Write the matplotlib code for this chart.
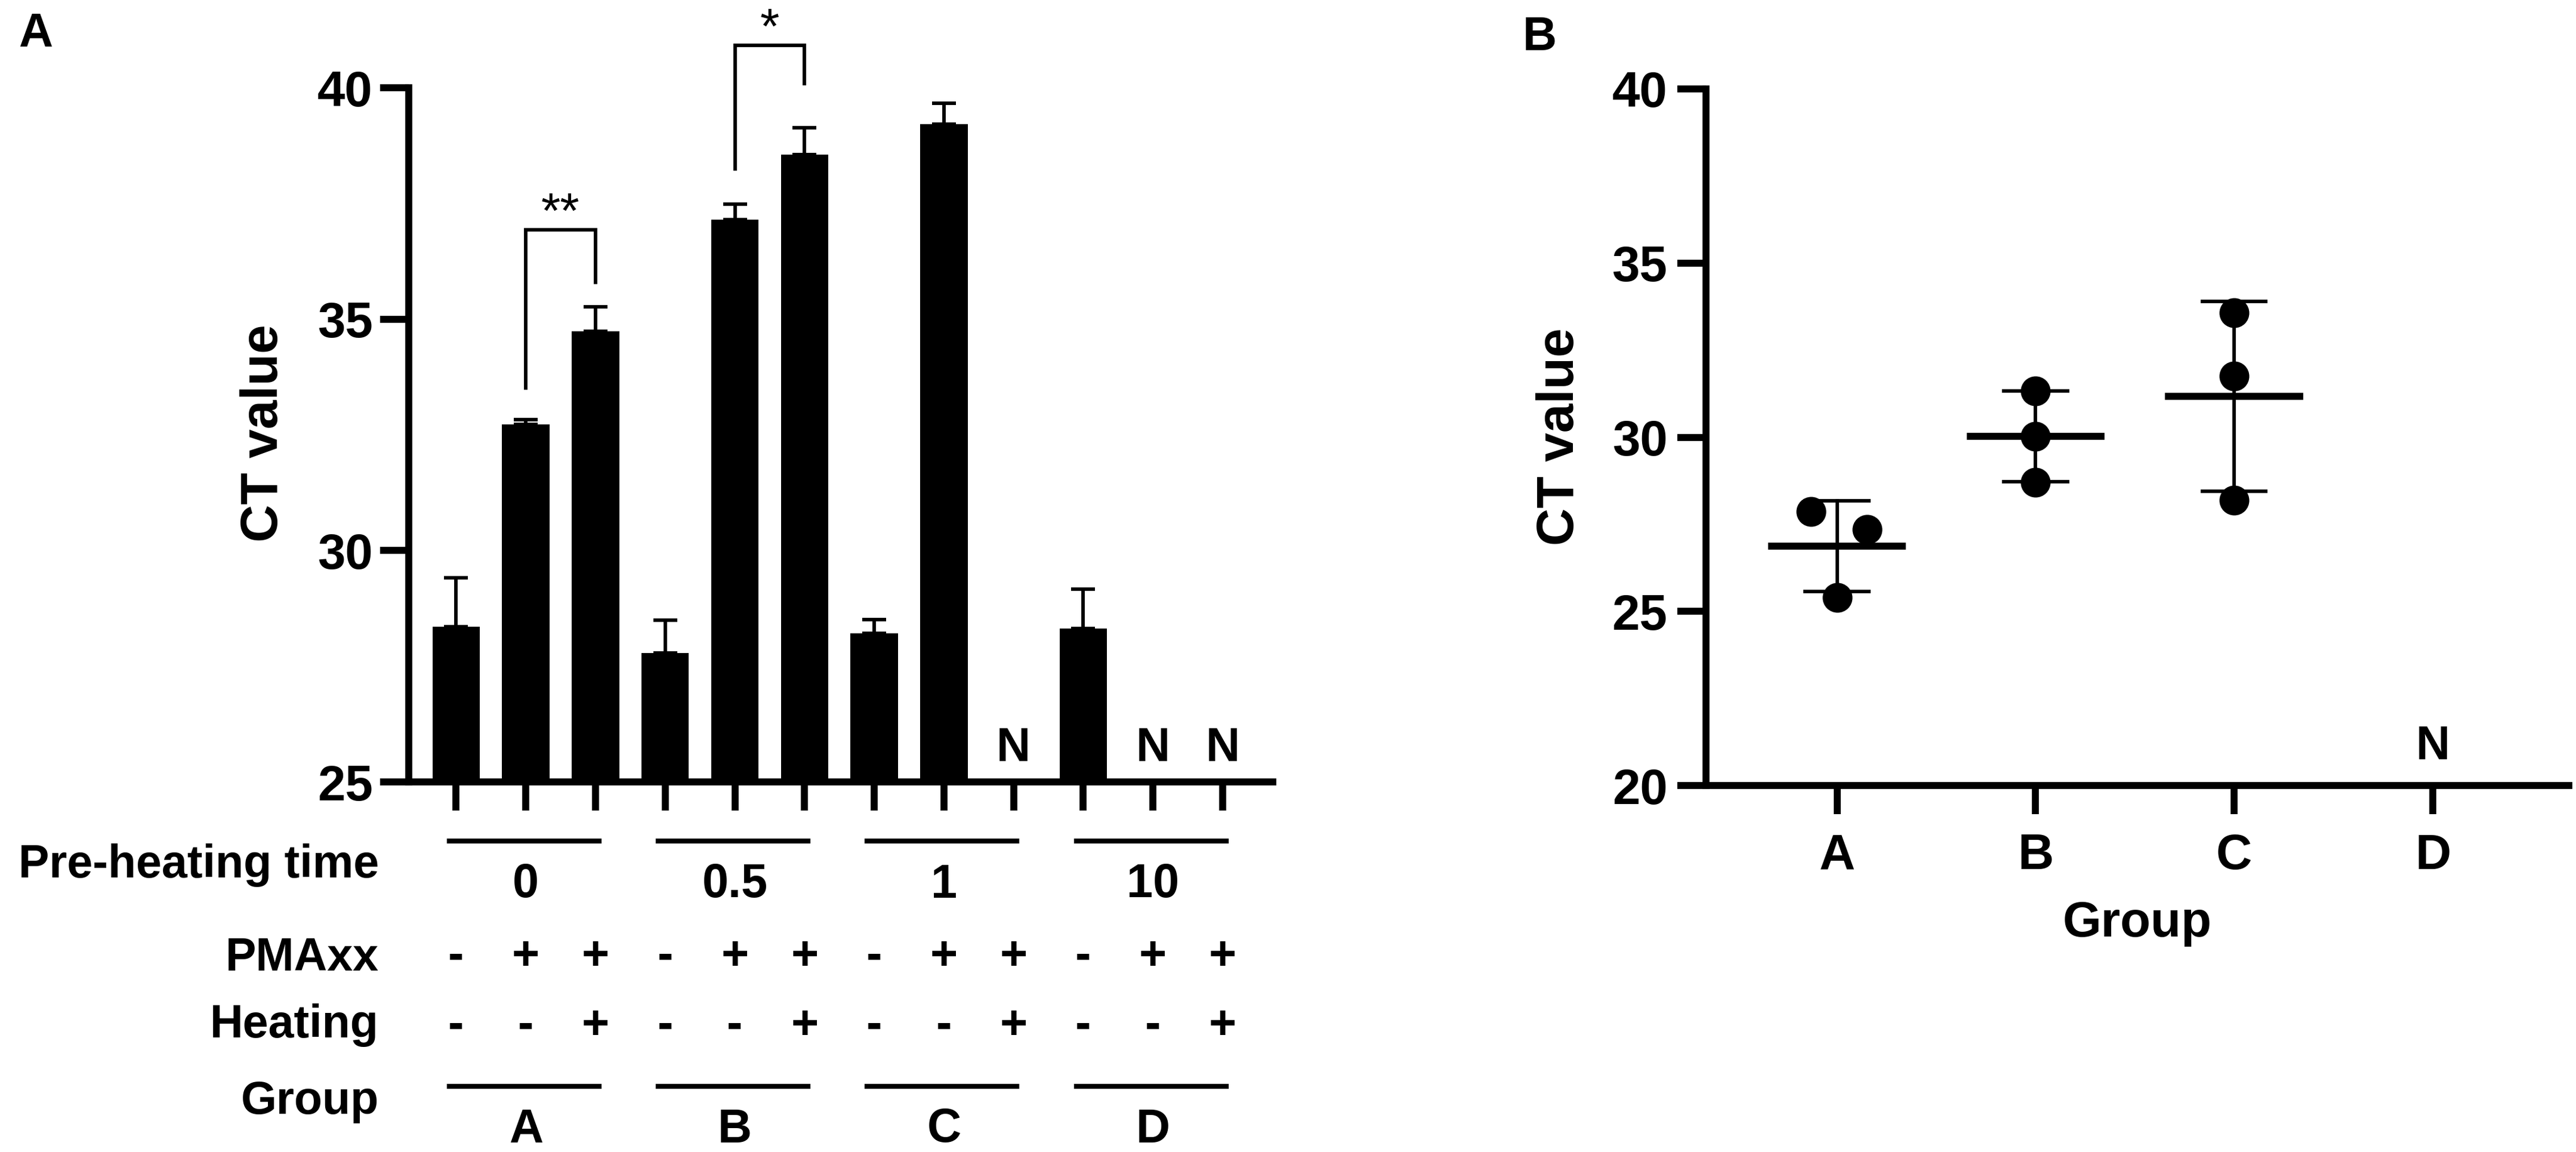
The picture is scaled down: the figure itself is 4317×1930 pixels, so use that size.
import numpy as np
import matplotlib.pyplot as plt
from matplotlib import transforms

plt.rcParams['font.family'] = ['Liberation Sans', 'DejaVu Sans']
plt.rcParams['font.weight'] = 'bold'

# Panel A: CT values of the bars (mean, upper SD); nan = not detected (N)
ct_mean = [28.35, 32.72, 34.74, 27.79, 37.15, 38.56, 28.21, 39.21, np.nan, 28.31, np.nan, np.nan]
ct_sd = [1.06, 0.11, 0.53, 0.71, 0.34, 0.57, 0.30, 0.46, np.nan, 0.86, np.nan, np.nan]
pmaxx = ['-', '+', '+'] * 4
heating = ['-', '-', '+'] * 4
preheat_time = ['0', '0.5', '1', '10']
groups = ['A', 'B', 'C', 'D']

# significance brackets: (left bar, right bar, top, left end, right end, label)
brackets = [(1, 2, 36.93, 33.51, 35.80, '**'),
            (4, 5, 40.91, 38.24, 40.09, '*')]

# Panel B: individual CT values per group (D not detected)
points_a = [27.86, 27.36, 25.40]
points_b = [31.32, 30.03, 28.71]
points_c = [33.57, 31.75, 28.20]
points_d = []
jitter_a = [-0.13, 0.15, 0.0]

W, H = 4317, 1930
fig = plt.figure(figsize=(W / 300, H / 300), dpi=300)

def fy(px):
    return 1 - px / H

def fx(px):
    return px / W

lw_axis = 2.8
ax_a = fig.add_axes([fx(685), fy(1310), fx(2133) - fx(685), fy(147) - fy(1310)])
ax_b = fig.add_axes([fx(2859), fy(1316), fx(4305) - fx(2859), fy(149) - fy(1316)])

for ax in (ax_a, ax_b):
    ax.spines['top'].set_visible(False)
    ax.spines['right'].set_visible(False)
    ax.spines['left'].set_linewidth(lw_axis)
    ax.spines['bottom'].set_linewidth(lw_axis)
    ax.tick_params(axis='both', direction='out', length=11.5, width=lw_axis, labelsize=20)

# ---- Panel A ----
x = np.arange(len(ct_mean))
mean = np.array(ct_mean)
sd = np.array(ct_sd)
ok = ~np.isnan(mean)
ax_a.bar(x[ok], mean[ok], width=0.68, color='black')
ax_a.errorbar(x[ok], mean[ok], yerr=[np.zeros(ok.sum()), sd[ok]], fmt='none',
              ecolor='black', elinewidth=1.4, capsize=4.7, capthick=1.4)
for xi in x[~ok]:
    ax_a.text(xi, 25.45, 'N', ha='center', va='baseline', fontsize=19)

for i0, i1, top, y0, y1, lab in brackets:
    ax_a.plot([i0, i0, i1, i1], [y0, top, top, y1], color='black', lw=1.4,
              clip_on=False, solid_joinstyle='miter')
    ax_a.text((i0 + i1) / 2, top + 0.05, lab, ha='center', va='baseline',
              fontsize=20, fontweight='normal', clip_on=False)

ax_a.set_xlim(-0.68, 11.72)
ax_a.set_ylim(25, 40)
ax_a.set_yticks([25, 30, 35, 40])
ax_a.set_xticks(x)
ax_a.tick_params(axis='x', labelbottom=False)
ax_a.tick_params(axis='y', pad=3)
ax_a.text(fx(442), fy(726), 'CT value', transform=fig.transFigure, rotation=90,
          ha='center', va='center', fontsize=21)

# table under panel A
tr = transforms.blended_transform_factory(ax_a.transData, fig.transFigure)
for k in range(len(groups)):
    for ypx in (1409, 1820):
        line = plt.Line2D([3 * k - 0.1, 3 * k + 2.05], [fy(ypx), fy(ypx)], transform=tr,
                          color='black', lw=2.0)
        fig.add_artist(line)
    fig.text(3 * k + 1, fy(1483), preheat_time[k], transform=tr, ha='center', va='center', fontsize=19)
    fig.text(3 * k + 1, fy(1893), groups[k], transform=tr, ha='center', va='center', fontsize=19)
for xi in x:
    fig.text(xi, fy(1603), pmaxx[xi], transform=tr, ha='center', va='center', fontsize=19)
    fig.text(xi, fy(1719), heating[xi], transform=tr, ha='center', va='center', fontsize=19)

row_labels = [('Pre-heating time', 1449), ('PMAxx', 1606), ('Heating', 1718), ('Group', 1846)]
for lab, ypx in row_labels:
    fig.text(fx(635), fy(ypx), lab, ha='right', va='center', fontsize=18.5)

# ---- Panel B ----
all_points = [points_a, points_b, points_c, points_d]
for gi, pts in enumerate(all_points):
    xc = gi + 1
    if len(pts) == 0:
        ax_b.text(xc, 20.75, 'N', ha='center', va='baseline', fontsize=19)
        continue
    pts = np.array(pts)
    offs = np.array(jitter_a) if gi == 0 else np.zeros(len(pts))
    m = pts.mean()
    s = pts.std(ddof=1)
    ax_b.plot(xc + offs, pts, 'o', color='black', markersize=11, zorder=3)
    ax_b.plot([xc - 0.33, xc + 0.33], [m, m], color='black', lw=2.8, zorder=2)
    ax_b.plot([xc, xc], [m - s, m + s], color='black', lw=1.4, zorder=2)
    for yy in (m - s, m + s):
        ax_b.plot([xc - 0.16, xc + 0.16], [yy, yy], color='black', lw=1.4, zorder=2)

ax_b.set_xlim(0.34, 4.685)
ax_b.set_ylim(20, 40)
ax_b.set_yticks([20, 25, 30, 35, 40])
ax_b.set_xticks([1, 2, 3, 4])
ax_b.set_xticklabels(groups)
ax_b.tick_params(axis='x', pad=7.5)
ax_b.tick_params(axis='y', pad=4)
ax_b.text(fx(2615), fy(732), 'CT value', transform=fig.transFigure, rotation=90,
          ha='center', va='center', fontsize=21)
fig.text(fx(3582), fy(1547), 'Group', ha='center', va='center', fontsize=20)

# panel letters
fig.text(fx(60), fy(58), 'A', ha='center', va='center', fontsize=19)
fig.text(fx(2580), fy(64), 'B', ha='center', va='center', fontsize=19)

fig.savefig('out.png', dpi=300)
